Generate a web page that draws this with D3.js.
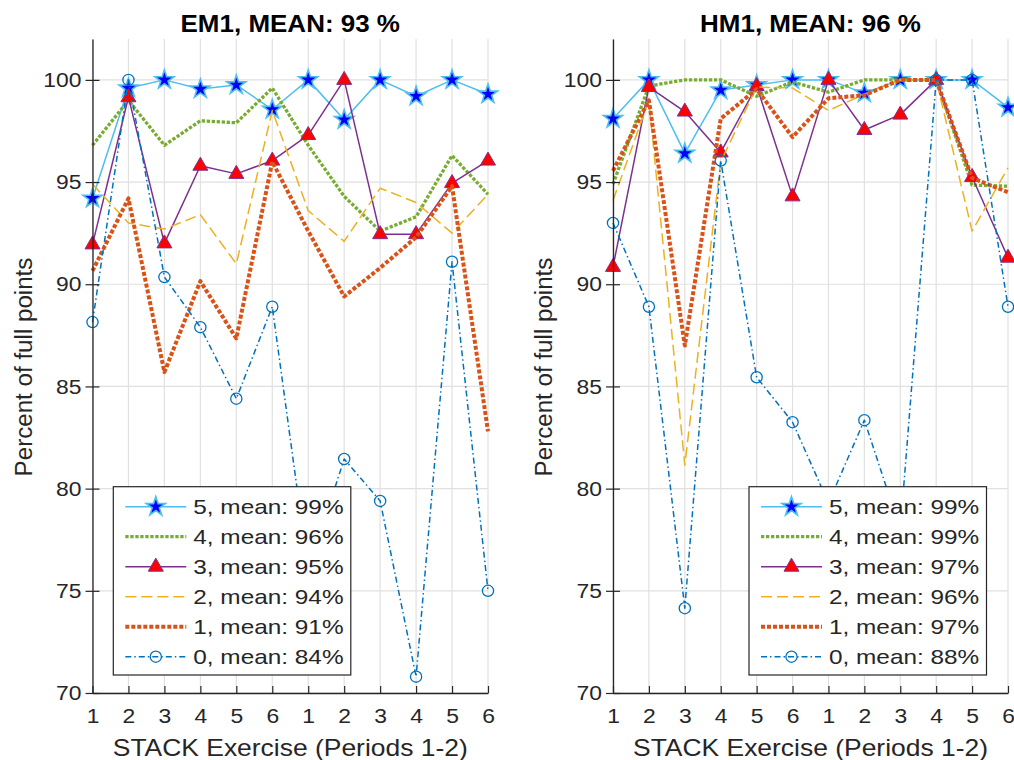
<!DOCTYPE html>
<html><head><meta charset="utf-8">
<script src="https://cdn.jsdelivr.net/npm/d3@7"></script>
<style>body{margin:0;background:#fff}</style>
</head><body><svg id="chart" width="1014" height="760"></svg>
<script>
// ---- data ----
const exerciseIndex = [1,2,3,4,5,6,7,8,9,10,11,12];
const tickLabels = ["1","2","3","4","5","6","1","2","3","4","5","6"];
const yTicks = [70,75,80,85,90,95,100];
const seriesNames = ["5","4","3","2","1","0"];
const panelTitles = ["EM1, MEAN: 93 %", "HM1, MEAN: 96 %"];
const xAxisLabel = "STACK Exercise (Periods 1-2)";
const yAxisLabel = "Percent of full points";
const emMeans = ["99%","96%","95%","94%","91%","84%"];
const hmMeans = ["99%","99%","97%","96%","97%","88%"];

const em5 = [94.2, 99.6, 100, 99.55, 99.75, 98.55, 100, 98.05, 100, 99.2, 100, 99.3];
const em4 = [96.8, 99.0, 96.8, 98.0, 97.9, 99.6, 96.8, 94.3, 92.6, 93.3, 96.3, 94.4];
const em3 = [91.95, 99.15, 92.0, 95.8, 95.4, 96.05, 97.3, 100, 92.45, 92.45, 94.95, 96.05];
const em2 = [94.9, 93.0, 92.7, 93.4, 91.0, 98.5, 93.6, 92.1, 94.7, 94.0, 92.5, 94.4];
const em1 = [90.65, 94.2, 85.7, 90.15, 87.35, 96.0, 92.6, 89.4, 90.8, 92.3, 94.8, 82.8];
const em0 = [88.15, 100, 90.35, 87.9, 84.4, 88.9, 76.0, 81.45, 79.4, 70.8, 91.1, 75.0];

const hm5 = [98.1, 100, 96.4, 99.5, 99.75, 100, 100, 99.35, 100, 100, 100, 98.65];
const hm4 = [94.9, 99.7, 100, 100, 99.2, 99.9, 99.4, 100, 100, 100, 94.85, 94.8];
const hm3 = [90.85, 99.65, 98.45, 96.45, 99.7, 94.3, 100, 97.55, 98.3, 100, 95.25, 91.3];
const hm2 = [94.1, 99.0, 81.15, 96.0, 99.65, 99.6, 98.5, 99.3, 100, 100, 92.6, 95.7];
const hm1 = [95.55, 99.0, 87.0, 98.1, 99.55, 97.2, 99.1, 99.25, 100, 100, 95.2, 94.5];
const hm0 = [93.0, 88.9, 74.15, 96.05, 85.45, 83.25, 79.3, 83.35, 78.0, 100, 100, 88.9];

// ---- styles ----
const FONT = "'Liberation Sans', Arial, Helvetica, sans-serif";
const TXT = "#262626";
const styles = [
  {color:"#4DBEEE", width:1.5, dash:null, marker:"star"},
  {color:"#77AC30", width:3.3, dash:"3.3,1.7", marker:null},
  {color:"#7E2F8E", width:1.5, dash:null, marker:"tri"},
  {color:"#EDB120", width:1.5, dash:"11,5", marker:null},
  {color:"#D95319", width:4, dash:"4,2", marker:null},
  {color:"#0072BD", width:1.5, dash:"6,3,1.5,3", marker:"circle"}
];

const panels = [
  {x0:92.5, x1:488, legendX:113.3, title:panelTitles[0], means:emMeans, data:[em5,em4,em3,em2,em1,em0]},
  {x0:613, x1:1008, legendX:749, title:panelTitles[1], means:hmMeans, data:[hm5,hm4,hm3,hm2,hm1,hm0]}
];

const svg = d3.select("#chart");
const y = d3.scaleLinear().domain([70,102]).range([693,39]);

function starPath(R){
  const r = R*0.382, pts=[];
  for(let i=0;i<10;i++){
    const a = -Math.PI/2 + i*Math.PI/5, rr = i%2 ? r : R;
    pts.push([rr*Math.cos(a), rr*Math.sin(a)]);
  }
  return "M"+pts.map(p=>p[0].toFixed(2)+","+p[1].toFixed(2)).join("L")+"Z";
}
const STAR = starPath(10);
const TRI = "M0,-8.5L7.5,4.5L-7.5,4.5Z";

function drawMarker(g, st, cx, cy){
  if(st.marker==="star"){
    g.append("path").attr("d",STAR).attr("transform",`translate(${cx},${cy})`)
      .attr("fill","#0000FF").attr("stroke",st.color).attr("stroke-width",1.6);
  } else if(st.marker==="tri"){
    g.append("path").attr("d",TRI).attr("transform",`translate(${cx},${cy})`)
      .attr("fill","#FF0000").attr("stroke",st.color).attr("stroke-width",1);
  } else if(st.marker==="circle"){
    g.append("circle").attr("cx",cx).attr("cy",cy).attr("r",5.6)
      .attr("fill","none").attr("stroke",st.color).attr("stroke-width",1.3);
  }
}

function sText(g, x, yy, str, size, sx, anchor, weight, extra){
  return g.append("text")
    .attr("transform",`translate(${x},${yy})${extra||""} scale(${sx},1)`)
    .attr("text-anchor",anchor).attr("font-family",FONT).attr("font-size",size)
    .attr("font-weight",weight||"normal").attr("fill",weight==="bold"?"#000":TXT)
    .text(str);
}

panels.forEach(p=>{
  const g = svg.append("g");
  const x = d3.scaleLinear().domain([1,12]).range([p.x0,p.x1]);

  // grid
  const grid = g.append("g").attr("stroke","#e0e0e0").attr("stroke-width",1.2);
  exerciseIndex.forEach(v=>{
    grid.append("line").attr("x1",x(v)).attr("x2",x(v)).attr("y1",y(102)).attr("y2",y(70));
  });
  yTicks.forEach(v=>{
    grid.append("line").attr("x1",p.x0).attr("x2",p.x1).attr("y1",y(v)).attr("y2",y(v));
  });

  // series
  const line = d3.line().x((d,i)=>x(exerciseIndex[i])).y(d=>y(d));
  p.data.forEach((vals,si)=>{
    const st = styles[si];
    const sg = g.append("g");
    sg.append("path").attr("d",line(vals)).attr("fill","none")
      .attr("stroke",st.color).attr("stroke-width",st.width)
      .attr("stroke-dasharray",st.dash).attr("stroke-linejoin","round");
    vals.forEach((v,i)=>drawMarker(sg, st, x(exerciseIndex[i]), y(v)));
  });

  // axes
  const xa = g.append("g").attr("transform",`translate(0,${y(70)})`)
    .call(d3.axisBottom(x).tickValues(exerciseIndex).tickFormat((d,i)=>tickLabels[i])
      .tickSizeInner(-7).tickSizeOuter(0).tickPadding(15));
  const ya = g.append("g").attr("transform",`translate(${p.x0},0)`)
    .call(d3.axisLeft(y).tickValues(yTicks).tickSizeInner(7).tickSizeOuter(0).tickPadding(4));
  ya.selectAll(".tick line").attr("x2",7).attr("x1",-7);
  [xa,ya].forEach(a=>{
    a.select(".domain").attr("stroke",TXT).attr("stroke-width",1.3);
    a.selectAll(".tick line").attr("stroke",TXT).attr("stroke-width",1.2);
    a.selectAll("text").attr("font-family",FONT).attr("font-size",21).attr("fill",TXT);
  });
  xa.selectAll("text").attr("transform","scale(1.09,1)");
  ya.selectAll("text").attr("x",-11/1.09).attr("transform","scale(1.09,1)");

  // titles & labels
  const cx = (p.x0+p.x1)/2;
  sText(g, cx, 31.7, p.title, 23, 1.13, "middle", "bold");
  sText(g, cx, 756, xAxisLabel, 23, 1.15, "middle");
  sText(g, p.x0-60.8, 367, yAxisLabel, 23, 1.05, "middle", null, " rotate(-90)");

  // legend
  const lg = g.append("g");
  const lx = p.legendX, ly = 486.7;
  lg.append("rect").attr("x",lx).attr("y",ly).attr("width",237.5).attr("height",188.3)
    .attr("fill","#fff").attr("stroke",TXT).attr("stroke-width",1.2);
  seriesNames.forEach((nm,i)=>{
    const st = styles[i], cy = 506.7 + 30*i;
    lg.append("line").attr("x1",lx+12).attr("x2",lx+73).attr("y1",cy).attr("y2",cy)
      .attr("stroke",st.color).attr("stroke-width",st.width).attr("stroke-dasharray",st.dash);
    drawMarker(lg, st, lx+42.5, cy);
    sText(lg, lx+80, cy+7.5, `${nm}, mean: ${p.means[i]}`, 21, 1.16, "start");
  });
});
</script></body></html>
